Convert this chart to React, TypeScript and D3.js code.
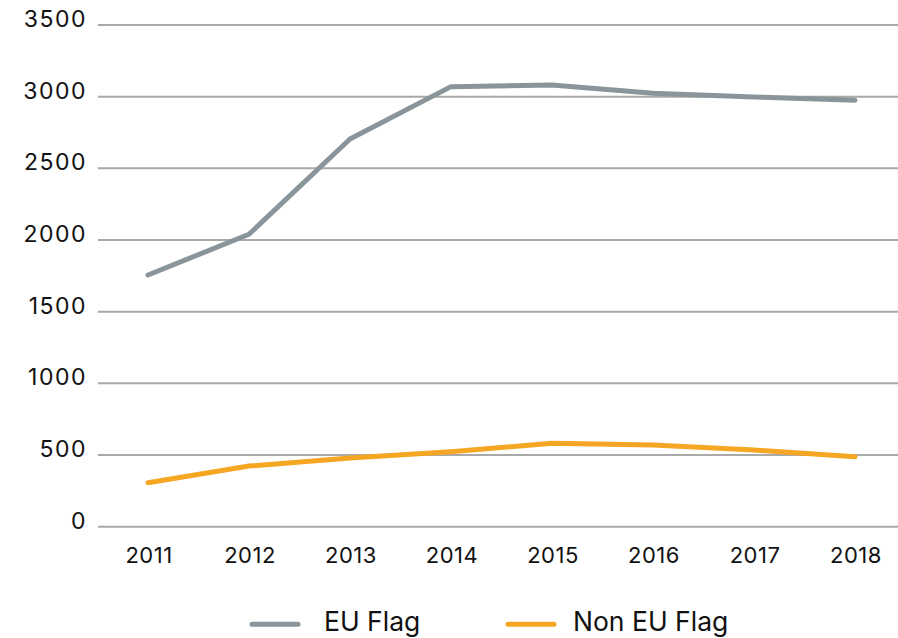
import React from "react";
import * as d3 from "d3";

const years = ["2011", "2012", "2013", "2014", "2015", "2016", "2017", "2018"];
const euFlag = [1756, 2040, 2705, 3070, 3082, 3024, 2998, 2975];
const nonEuFlag = [307, 423, 479, 523, 582, 570, 535, 488];
const yTicks = [0, 500, 1000, 1500, 2000, 2500, 3000, 3500];
const seriesNames = ["EU Flag", "Non EU Flag"];
const seriesColors = ["#8a959b", "#f5a623"];

const W = 898;
const H = 638;
const FONT = "Inter, 'Open Sans', sans-serif";

export default function App() {
  const x = d3.scalePoint<string>().domain(years).range([148, 855]);
  const y = d3.scaleLinear().domain([0, 3500]).range([526.7, 25]);
  const line = d3
    .line<number>()
    .x((_, i) => x(years[i]) as number)
    .y((d) => y(d));
  const series = [euFlag, nonEuFlag];
  const legendX = [252, 508];
  const legendTextX = [324, 573];
  return (
    <div style={{ position: "fixed", left: 0, top: 0, width: W, height: H, background: "#fff" }}>
      <svg width={W} height={H} style={{ display: "block" }}>
        {yTicks.map((t) => (
          <g key={t}>
            <line x1={98} x2={W} y1={y(t)} y2={y(t)} stroke="#a9a9a9" strokeWidth={2} />
            <text
              x={87}
              y={y(t) + 2}
              textAnchor="end"
              fontFamily={FONT}
              fontSize={23}
              letterSpacing={1.5}
              fill="#111"
            >
              {t}
            </text>
          </g>
        ))}
        {years.map((yr) => (
          <text
            key={yr}
            x={(x(yr) as number) + 1}
            y={563}
            textAnchor="middle"
            fontFamily={FONT}
            fontSize={22}
            letterSpacing={0.5}
            fill="#111"
          >
            {yr}
          </text>
        ))}
        {series.map((s, i) => (
          <path
            key={i}
            d={line(s) || ""}
            fill="none"
            stroke={seriesColors[i]}
            strokeWidth={5}
            strokeLinecap="round"
            strokeLinejoin="round"
          />
        ))}
        {seriesNames.map((n, i) => (
          <g key={n}>
            <line
              x1={legendX[i]}
              x2={legendX[i] + 46}
              y1={624.3}
              y2={624.3}
              stroke={seriesColors[i]}
              strokeWidth={5}
              strokeLinecap="round"
            />
            <text x={legendTextX[i]} y={631} fontFamily={FONT} fontSize={26.5} fill="#111">
              {n}
            </text>
          </g>
        ))}
      </svg>
    </div>
  );
}
